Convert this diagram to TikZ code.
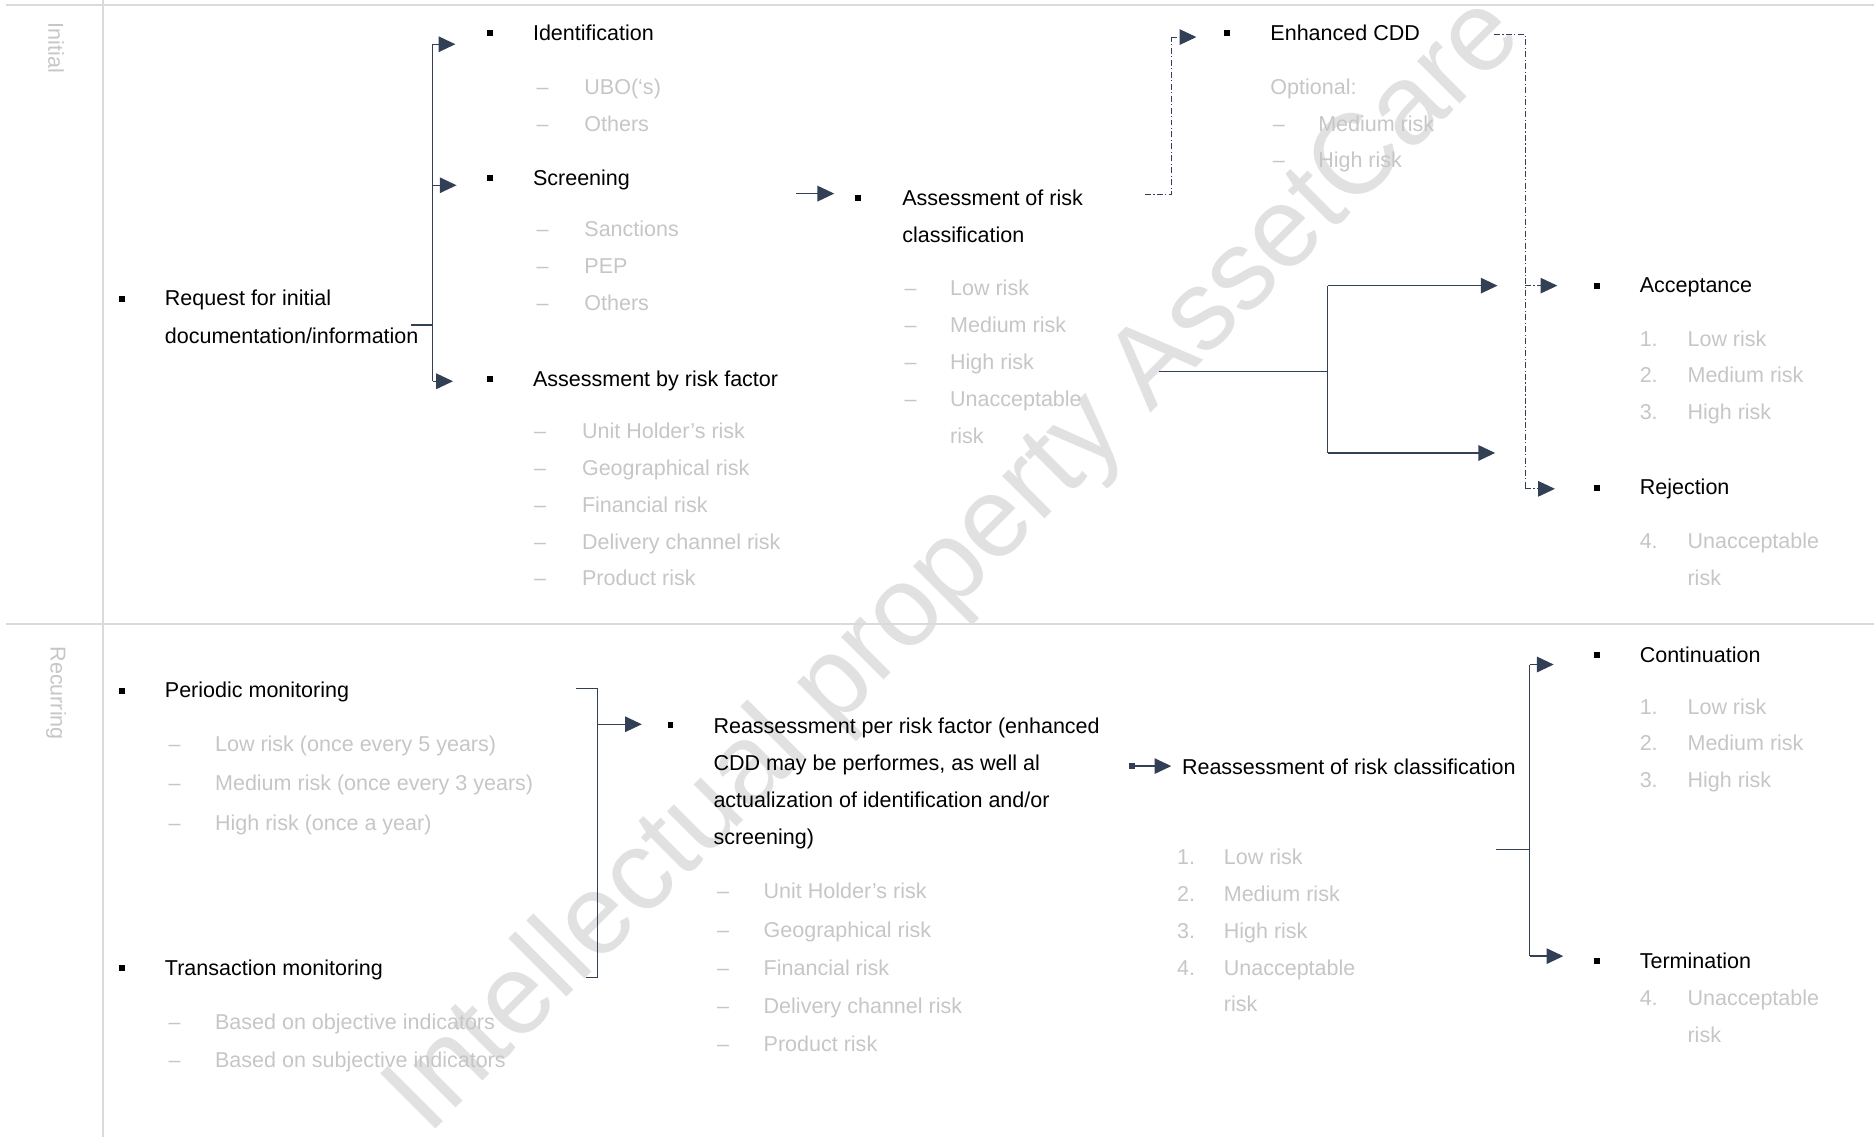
\documentclass[tikz,border=0pt]{standalone}
\usepackage{fontspec}
\setmainfont{Liberation Sans}
\usetikzlibrary{arrows.meta}
\definecolor{navy}{HTML}{323F54}
\definecolor{lgray}{HTML}{C6C6C6}
\definecolor{framec}{HTML}{DADADA}
\definecolor{wmark}{HTML}{E1E1E1}
\begin{document}
\begin{tikzpicture}[x=1pt,y=-1pt,
  every node/.style={inner sep=0pt, outer sep=0pt},
  txt/.style={font=\fontsize{18}{22}\selectfont, anchor=base west, text=black},
  gtxt/.style={txt, text=lgray},
  bul/.style={fill=black, minimum size=5pt, inner sep=0pt},
  conn/.style={draw=navy, line width=1.1pt},
  arr/.style={conn, -{Triangle[length=14pt,width=13pt]}},
  dconn/.style={draw=navy, line width=0.8pt, dash pattern=on 5pt off 2pt on 1pt off 2pt},
  darr/.style={dconn, -{Triangle[length=14pt,width=13pt]}},
  framel/.style={draw=framec, line width=1.5pt},
  lane/.style={font=\fontsize{18}{22}\selectfont, text=lgray, rotate=-90}
]
\useasboundingbox (0,0) rectangle (1568,951);

% watermark (behind)
\node[font=\fontsize{95}{100}\selectfont, text=wmark, rotate=45] (wm) at (800,474) {Intellectual property AssetCare};

% frame
\coordinate (ft1) at (5,4);   \coordinate (ft2) at (1568,4);
\coordinate (fm1) at (5,522); \coordinate (fm2) at (1568,522);
\coordinate (fv1) at (86,0);  \coordinate (fv2) at (86,951);
\draw[framel] (ft1) -- (ft2);
\draw[framel] (fm1) -- (fm2);
\draw[framel] (fv1) -- (fv2);
\node[lane] (lInit) at (47,40) {Initial};
\node[lane] (lRec) at (47,580) {Recurring};

% ---------------- Initial ----------------
\node[bul] (bReq) at (102,250) {};
\node[txt] (req1) at (138,256) {Request for initial};
\node[txt] (req2) at (138,287) {documentation/information};

\node[bul] (bId) at (410,28) {};
\node[txt] (id) at (446,34) {Identification};
\node[gtxt] (d1) at (449,79) {–}; \node[gtxt] (ubo) at (489,79) {UBO(‘s)};
\node[gtxt] (d2) at (449,110) {–}; \node[gtxt] (oth1) at (489,110) {Others};

\node[bul] (bScr) at (410,149) {};
\node[txt] (scr) at (446,155) {Screening};
\node[gtxt] (d3) at (449,198) {–}; \node[gtxt] (sanc) at (489,198) {Sanctions};
\node[gtxt] (d4) at (449,229) {–}; \node[gtxt] (pep) at (489,229) {PEP};
\node[gtxt] (d5) at (449,260) {–}; \node[gtxt] (oth2) at (489,260) {Others};

\node[bul] (bArf) at (410,317) {};
\node[txt] (arf) at (446,323) {Assessment by risk factor};
\node[gtxt] (d6) at (447,367) {–}; \node[gtxt] (uh1) at (487,367) {Unit Holder’s risk};
\node[gtxt] (d7) at (447,398) {–}; \node[gtxt] (geo1) at (487,398) {Geographical risk};
\node[gtxt] (d8) at (447,429) {–}; \node[gtxt] (fin1) at (487,429) {Financial risk};
\node[gtxt] (d9) at (447,460) {–}; \node[gtxt] (del1) at (487,460) {Delivery channel risk};
\node[gtxt] (d10) at (447,490) {–}; \node[gtxt] (prod1) at (487,490) {Product risk};

% bracket 1
\coordinate (r0) at (344,272); \coordinate (rj) at (362,272);
\coordinate (rt) at (362,37);  \coordinate (rm) at (362,155); \coordinate (rb) at (362,319);
\coordinate (a1) at (381,37);  \coordinate (a2) at (382,155); \coordinate (a3) at (379,319);
\draw[conn] (r0) -- (rj);
\draw[conn] (rt) -- (rb);
\draw[arr] (rt) -- (a1);
\draw[arr] (rm) -- (a2);
\draw[arr] (rb) -- (a3);

% assessment of risk classification
\coordinate (c0) at (666,162); \coordinate (c1) at (698,162);
\draw[arr] (c0) -- (c1);
\node[bul] (bArc) at (718,166) {};
\node[txt] (arc1) at (755,172) {Assessment of risk};
\node[txt] (arc2) at (755,203) {classification};
\node[gtxt] (e1) at (757,247) {–}; \node[gtxt] (lr1) at (795,247) {Low risk};
\node[gtxt] (e2) at (757,278) {–}; \node[gtxt] (mr1) at (795,278) {Medium risk};
\node[gtxt] (e3) at (757,309) {–}; \node[gtxt] (hr1) at (795,309) {High risk};
\node[gtxt] (e4) at (757,340) {–}; \node[gtxt] (ur1) at (795,340) {Unacceptable};
\node[gtxt] (ur1b) at (795,371) {risk};

% enhanced CDD
\coordinate (x0) at (958,163); \coordinate (x1) at (980,163); \coordinate (x2) at (980,31); \coordinate (x3) at (1001,31);
\draw[dconn] (x0) -- (x1) -- (x2);
\draw[darr] (x2) -- (x3);
\node[bul] (bCdd) at (1027,28) {};
\node[txt] (cdd) at (1063,34) {Enhanced CDD};
\node[gtxt] (opt) at (1063,79) {Optional:};
\node[gtxt] (f1) at (1065,110) {–}; \node[gtxt] (mr2) at (1103,110) {Medium risk};
\node[gtxt] (f2) at (1065,140) {–}; \node[gtxt] (hr2) at (1103,140) {High risk};

\coordinate (y0) at (1250,29); \coordinate (y1) at (1276,29);
\coordinate (y2) at (1276,239); \coordinate (y3) at (1276,409);
\coordinate (y4) at (1303,239); \coordinate (y5) at (1301,409);
\draw[dconn] (y0) -- (y1) -- (y3);
\draw[darr] (y2) -- (y4);
\draw[darr] (y3) -- (y5);

% solid split
\coordinate (s0) at (970,311); \coordinate (s1) at (1111,311);
\coordinate (s2) at (1111,239); \coordinate (s3) at (1111,379);
\coordinate (s4) at (1253,239); \coordinate (s5) at (1251,379);
\draw[conn] (s0) -- (s1);
\draw[conn] (s2) -- (s3);
\draw[arr] (s2) -- (s4);
\draw[arr] (s3) -- (s5);

\node[bul] (bAcc) at (1336,239) {};
\node[txt] (acc) at (1372,245) {Acceptance};
\node[gtxt] (n1) at (1372,290) {1.}; \node[gtxt] (lr3) at (1412,290) {Low risk};
\node[gtxt] (n2) at (1372,320) {2.}; \node[gtxt] (mr3) at (1412,320) {Medium risk};
\node[gtxt] (n3) at (1372,351) {3.}; \node[gtxt] (hr3) at (1412,351) {High risk};

\node[bul] (bRej) at (1336,408) {};
\node[txt] (rej) at (1372,414) {Rejection};
\node[gtxt] (n4) at (1372,459) {4.}; \node[gtxt] (ur3) at (1412,459) {Unacceptable};
\node[gtxt] (ur3b) at (1412,490) {risk};

% ---------------- Recurring ----------------
\node[bul] (bPer) at (102,578) {};
\node[txt] (per) at (138,584) {Periodic monitoring};
\node[gtxt] (g1) at (141,629) {–}; \node[gtxt] (pl) at (180,629) {Low risk (once every 5 years)};
\node[gtxt] (g2) at (141,661) {–}; \node[gtxt] (pm) at (180,661) {Medium risk (once every 3 years)};
\node[gtxt] (g3) at (141,695) {–}; \node[gtxt] (ph) at (180,695) {High risk (once a year)};

\node[bul] (bTra) at (102,810) {};
\node[txt] (tra) at (138,816) {Transaction monitoring};
\node[gtxt] (g4) at (141,861) {–}; \node[gtxt] (to) at (180,861) {Based on objective indicators};
\node[gtxt] (g5) at (141,893) {–}; \node[gtxt] (ts) at (180,893) {Based on subjective indicators};

\coordinate (k0) at (482,576); \coordinate (k1) at (500,576);
\coordinate (k2) at (500,818); \coordinate (k3) at (490,818);
\coordinate (k4) at (500,606); \coordinate (k5) at (537,606);
\draw[conn] (k0) -- (k1) -- (k2) -- (k3);
\draw[arr] (k4) -- (k5);

\node[bul] (bRea) at (561,607) {};
\node[txt] (rea1) at (597,614) {Reassessment per risk factor (enhanced};
\node[txt] (rea2) at (597,645) {CDD may be performes, as well al};
\node[txt] (rea3) at (597,676) {actualization of identification and/or};
\node[txt] (rea4) at (597,707) {screening)};
\node[gtxt] (h1) at (600,752) {–}; \node[gtxt] (uh2) at (639,752) {Unit Holder’s risk};
\node[gtxt] (h2) at (600,784) {–}; \node[gtxt] (geo2) at (639,784) {Geographical risk};
\node[gtxt] (h3) at (600,816) {–}; \node[gtxt] (fin2) at (639,816) {Financial risk};
\node[gtxt] (h4) at (600,848) {–}; \node[gtxt] (del2) at (639,848) {Delivery channel risk};
\node[gtxt] (h5) at (600,880) {–}; \node[gtxt] (prod2) at (639,880) {Product risk};

\node[fill=navy, minimum width=5pt, minimum height=5pt] (bRrc) at (947,641) {};
\coordinate (m0) at (947,641); \coordinate (m1) at (980,641);
\draw[arr] (m0) -- (m1);
\node[txt] (rrc) at (989,648) {Reassessment of risk classification};
\node[gtxt] (q1) at (985,723) {1.}; \node[gtxt] (lr4) at (1024,723) {Low risk};
\node[gtxt] (q2) at (985,754) {2.}; \node[gtxt] (mr4) at (1024,754) {Medium risk};
\node[gtxt] (q3) at (985,785) {3.}; \node[gtxt] (hr4) at (1024,785) {High risk};
\node[gtxt] (q4) at (985,816) {4.}; \node[gtxt] (ur4) at (1024,816) {Unacceptable};
\node[gtxt] (ur4b) at (1024,846) {risk};

\coordinate (t0) at (1252,711); \coordinate (t1) at (1280,711);
\coordinate (t2) at (1280,556); \coordinate (t3) at (1280,800);
\coordinate (t4) at (1300,556); \coordinate (t5) at (1308,800);
\draw[conn] (t0) -- (t1);
\draw[conn] (t2) -- (t3);
\draw[arr] (t2) -- (t4);
\draw[arr] (t3) -- (t5);

\node[bul] (bCon) at (1336,548) {};
\node[txt] (con) at (1372,554) {Continuation};
\node[gtxt] (p1) at (1372,598) {1.}; \node[gtxt] (lr5) at (1412,598) {Low risk};
\node[gtxt] (p2) at (1372,628) {2.}; \node[gtxt] (mr5) at (1412,628) {Medium risk};
\node[gtxt] (p3) at (1372,659) {3.}; \node[gtxt] (hr5) at (1412,659) {High risk};

\node[bul] (bTer) at (1336,804) {};
\node[txt] (ter) at (1372,810) {Termination};
\node[gtxt] (p4) at (1372,841) {4.}; \node[gtxt] (ur5) at (1412,841) {Unacceptable};
\node[gtxt] (ur5b) at (1412,872) {risk};
\end{tikzpicture}
\end{document}
